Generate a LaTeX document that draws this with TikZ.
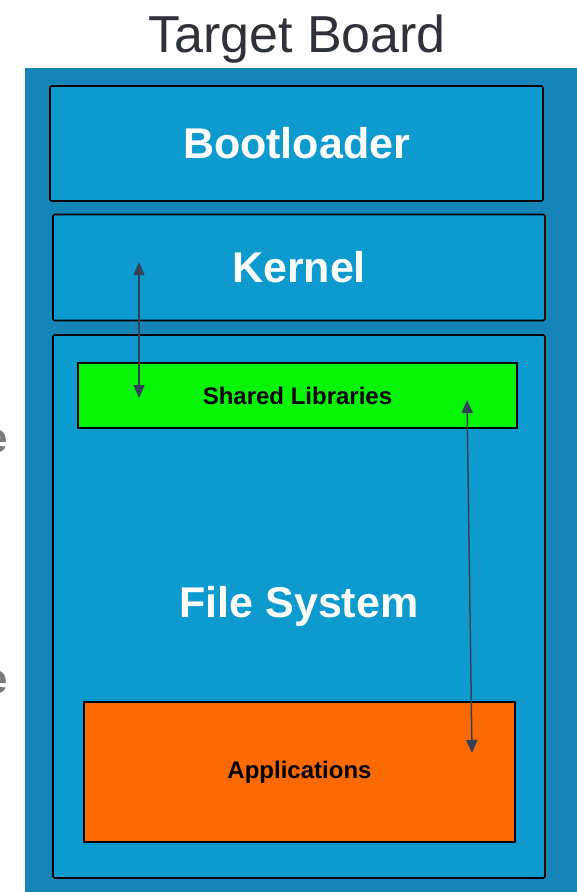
\documentclass[tikz,border=0pt]{standalone}
\usepackage{fontspec}
\setmainfont{Liberation Sans}
\usetikzlibrary{arrows.meta}
\definecolor{boardblue}{HTML}{1485B6}
\definecolor{boxblue}{HTML}{0D9ACF}
\definecolor{libgreen}{HTML}{06F406}
\definecolor{apporange}{HTML}{FA6A00}
\definecolor{titlegray}{HTML}{2E333B}
\definecolor{fraggray}{HTML}{7A7A7A}
\definecolor{arrowcol}{HTML}{33405A}
\tikzset{
  layer/.style={draw=black, line width=1.6pt, fill=boxblue, rounded corners=1.5pt,
    inner sep=0pt, text=white, font=\bfseries\fontsize{43}{43}\selectfont},
  smallbox/.style={draw=black, line width=1.4pt, inner sep=0pt,
    text=black, font=\bfseries\fontsize{24}{24}\selectfont},
  link/.style={draw=arrowcol, line width=1.5pt, {Triangle[length=13pt,width=11pt]}-{Triangle[length=13pt,width=11pt]}},
  frag/.style={text=fraggray, font=\bfseries\fontsize{42}{42}\selectfont, inner sep=0pt}
}
\begin{document}
\begin{tikzpicture}[x=1pt,y=-1pt]
\useasboundingbox (0,0) rectangle (577,892);
\fill[white] (0,0) rectangle (577,892);
% board
\fill[boardblue] (25,68) rectangle (590,900);
\node[text=titlegray, font=\fontsize{52}{52}\selectfont, inner sep=0pt, anchor=base] (title) at (297,52) {Target Board};
% layers
\node[layer, minimum width=493pt, minimum height=115pt] (boot) at (296.5,143.5) {Bootloader};
\node[layer, minimum width=492pt, minimum height=106pt] (kernel) at (299,267.5) {Kernel};
\node[layer, minimum width=492pt, minimum height=543pt] (fs) at (299,606.5) {File System};
\node[smallbox, fill=libgreen, minimum width=439pt, minimum height=65pt] (lib) at (297.5,395.5) {Shared Libraries};
\node[smallbox, fill=apporange, minimum width=431pt, minimum height=140pt] (app) at (299.5,772) {Applications};
% arrows
\coordinate (k1) at (139,262);
\coordinate (l1) at (139,398);
\coordinate (l2) at (467,400);
\coordinate (a2) at (472,753);
\draw[link] (k1) -- (l1);
\draw[link] (l2) -- (a2);
% cut-off fragments at left edge (as in the reference)
\node[frag, anchor=base east] (e1) at (8,452) {e};
\node[frag, anchor=base east] (e2) at (8,693) {e};
\end{tikzpicture}
\end{document}
